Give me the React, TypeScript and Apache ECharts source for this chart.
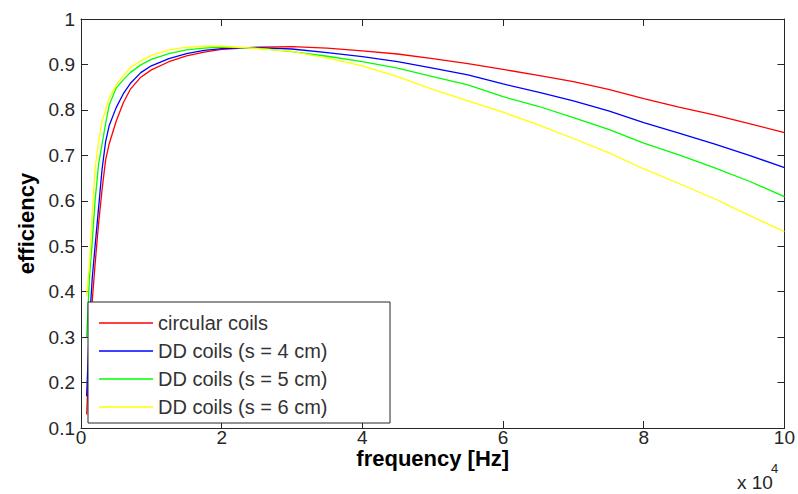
import React, { useEffect, useRef } from "react";
import * as echarts from "echarts";

// frequency in units of 1e4 Hz
const freq = [0.08, 0.12, 0.16, 0.2, 0.25, 0.3, 0.35, 0.4, 0.5, 0.6, 0.7, 0.85, 1, 1.25, 1.5, 1.75, 2, 2.5, 3, 3.5, 4, 4.5, 5, 5.5, 6, 6.5, 7, 7.5, 8, 8.5, 9, 9.5, 10];
const circular = [0.13, 0.27, 0.38, 0.46, 0.55, 0.625, 0.69, 0.725, 0.775, 0.815, 0.845, 0.872, 0.888, 0.906, 0.919, 0.927, 0.933, 0.938, 0.939, 0.936, 0.93, 0.923, 0.913, 0.902, 0.889, 0.876, 0.862, 0.845, 0.825, 0.806, 0.789, 0.77, 0.75];
const dd4 = [0.17, 0.33, 0.43, 0.5, 0.585, 0.67, 0.73, 0.765, 0.805, 0.835, 0.858, 0.882, 0.897, 0.913, 0.924, 0.931, 0.935, 0.937, 0.934, 0.926, 0.917, 0.906, 0.892, 0.877, 0.857, 0.839, 0.82, 0.798, 0.772, 0.749, 0.725, 0.7, 0.673];
const dd5 = [0.3, 0.43, 0.51, 0.6, 0.68, 0.725, 0.77, 0.81, 0.848, 0.866, 0.882, 0.899, 0.911, 0.924, 0.932, 0.936, 0.938, 0.936, 0.928, 0.918, 0.906, 0.892, 0.873, 0.855, 0.829, 0.808, 0.783, 0.757, 0.727, 0.701, 0.673, 0.643, 0.609];
const dd6 = [0.39, 0.46, 0.57, 0.67, 0.73, 0.775, 0.8, 0.825, 0.855, 0.875, 0.893, 0.908, 0.92, 0.932, 0.938, 0.94, 0.94, 0.935, 0.929, 0.914, 0.897, 0.873, 0.845, 0.82, 0.795, 0.767, 0.737, 0.706, 0.67, 0.638, 0.605, 0.568, 0.532];

const seriesNames = ["circular coils", "DD coils (s = 4 cm)", "DD coils (s = 5 cm)", "DD coils (s = 6 cm)"];
const seriesValues = [circular, dd4, dd5, dd6];
const seriesColors = ["#ff0000", "#0000ff", "#00ff00", "#ffff00"];

const xTicks = { min: 0, max: 10, interval: 2 };
const yTicks = { min: 0.1, max: 1, interval: 0.1 };

const FONT = "'Liberation Sans', Arial, sans-serif";
const AXIS_COLOR = "#262626";

export default function App() {
  const ref = useRef<HTMLDivElement>(null);
  useEffect(() => {
    if (!ref.current) return;
    const chart = echarts.init(ref.current, null, { renderer: "svg" });
    const axisLine = { show: true, onZero: false, lineStyle: { color: AXIS_COLOR, width: 1 } };
    const tick = { show: true, inside: true, length: 7, lineStyle: { color: AXIS_COLOR, width: 1 } };
    const labelStyle = { color: AXIS_COLOR, fontFamily: FONT, fontSize: 19, lineHeight: 18 };
    const fmtY = (v: number) => String(+v.toFixed(1));
    chart.setOption({
      animation: false,
      backgroundColor: "#ffffff",
      grid: { left: 81, top: 19, right: 13, bottom: 66, containLabel: false },
      xAxis: [
        {
          type: "value",
          position: "bottom",
          ...xTicks,
          axisLine,
          axisTick: tick,
          splitLine: { show: false },
          axisLabel: { ...labelStyle, margin: 0 },
          name: "frequency [Hz]",
          nameLocation: "middle",
          nameGap: 20,
          nameMoveOverlap: false,
          nameTextStyle: { color: "#000", fontFamily: FONT, fontSize: 22, fontWeight: "bold", lineHeight: 20 },
        },
        {
          type: "value",
          position: "top",
          ...xTicks,
          axisLine,
          axisTick: tick,
          splitLine: { show: false },
          axisLabel: { show: false },
        },
      ],
      yAxis: [
        {
          type: "value",
          position: "left",
          ...yTicks,
          axisLine,
          axisTick: tick,
          splitLine: { show: false },
          axisLabel: { ...labelStyle, margin: 6, formatter: fmtY },
          name: "efficiency",
          nameLocation: "middle",
          nameGap: 40,
          nameTextStyle: { color: "#000", fontFamily: FONT, fontSize: 22, fontWeight: "bold" },
        },
        {
          type: "value",
          position: "right",
          ...yTicks,
          axisLine,
          axisTick: tick,
          splitLine: { show: false },
          axisLabel: { show: false },
        },
      ],
      legend: {
        orient: "vertical",
        left: 88,
        top: 302,
        icon: "rect",
        itemWidth: 54,
        itemHeight: 1.5,
        itemGap: 8,
        padding: [11, 14, 6, 11],
        width: 290,
        backgroundColor: "#ffffff",
        borderColor: AXIS_COLOR,
        borderWidth: 1,
        borderRadius: 0,
        textStyle: { color: "#333", fontFamily: FONT, fontSize: 20, lineHeight: 18, width: 218 },
        data: seriesNames,
      },
      graphic: [
        { type: "text", left: 737, top: 473, style: { text: "x 10", fill: AXIS_COLOR, font: `19px ${FONT}` } },
        { type: "text", left: 771, top: 462, style: { text: "4", fill: AXIS_COLOR, font: `13px ${FONT}` } },
      ],
      series: seriesNames.map((name, i) => ({
        name,
        type: "line",
        xAxisIndex: 0,
        yAxisIndex: 0,
        symbol: "none",
        clip: true,
        data: freq.map((f, j) => [f, seriesValues[i][j]]),
        lineStyle: { color: seriesColors[i], width: 1.3 },
        itemStyle: { color: seriesColors[i] },
      })),
    });
    return () => chart.dispose();
  }, []);
  return <div ref={ref} style={{ position: "fixed", left: 0, top: 0, width: 798, height: 494 }} />;
}
